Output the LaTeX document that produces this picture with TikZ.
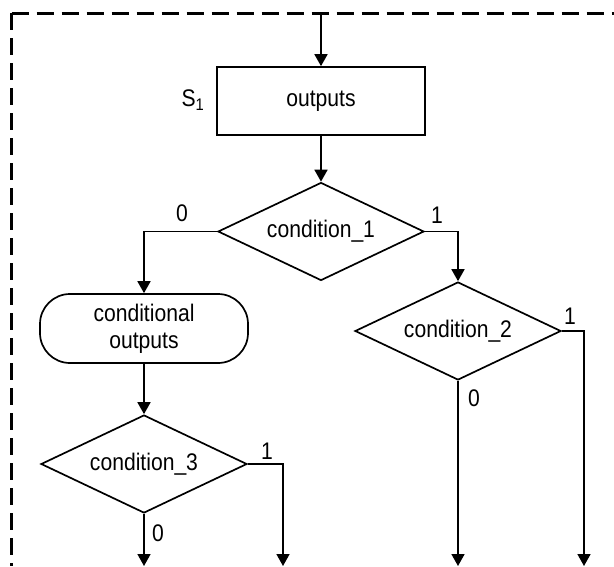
\documentclass[tikz,border=0pt]{standalone}
\usepackage{fontspec}
\setmainfont{Liberation Sans}[FakeStretch=0.88]
\usetikzlibrary{shapes.geometric,arrows.meta}
\begin{document}
\begin{tikzpicture}[x=1pt,y=1pt,
  every node/.style={font=\fontsize{24}{27}\selectfont},
  arr/.style={line width=1.7pt,-{Triangle[width=13pt,length=12pt]}},
  boxnode/.style={draw,line width=1.7pt,rectangle,minimum width=208pt,minimum height=68pt,inner sep=0pt},
  roundnode/.style={draw,line width=1.7pt,rectangle,rounded corners=30pt,minimum width=208pt,minimum height=69pt,inner sep=0pt,align=center},
  decision/.style={draw,line width=1.7pt,diamond,aspect=2.1,minimum width=206pt,minimum height=98pt,inner sep=0pt},
  lbl/.style={inner sep=0pt},
  frame/.style={line width=2.6pt,dash pattern=on 17pt off 8pt}
]
\useasboundingbox (0,0) rectangle (614,-566);
\clip (0,0) rectangle (614,-566);

% dashed frame
\coordinate (corner) at (11.7,-13.3);
\coordinate (topright) at (614,-13.3);
\coordinate (botleft) at (11.7,-566);
\draw[frame] (corner) -- (topright);
\draw[frame] (corner) -- (botleft);

% nodes
\node[boxnode] (out) at (321,-101) {outputs};
\node[lbl] (s1) at (193,-100) {S\textsubscript{1}};
\node[decision] (d1) at (321,-231.5) {condition\_1};
\node[roundnode] (co) at (144,-328.5) {conditional\\outputs};
\node[decision] (d2) at (458,-331) {condition\_2};
\node[decision] (d3) at (144,-464) {condition\_3};

% labels
\node[lbl] (l0a) at (182,-213) {0};
\node[lbl] (l1a) at (437,-215) {1};
\node[lbl] (l1b) at (570,-316) {1};
\node[lbl] (l0b) at (474,-398) {0};
\node[lbl] (l1c) at (267,-451) {1};
\node[lbl] (l0c) at (158,-533) {0};

% free ends
\coordinate (in) at (321,-13.3);
\coordinate (e1) at (144,-566);
\coordinate (e2) at (283,-566);
\coordinate (e3) at (458,-566);
\coordinate (e4) at (584,-566);

% connectors
\draw[arr] (in) -- (out.north);
\draw[arr] (out.south) -- (d1.north);
\draw[arr] (d1.west) -| (co.north);
\draw[arr] (d1.east) -| (d2.north);
\draw[arr] (co.south) -- (d3.north);
\draw[arr] (d2.south) -- (e3);
\draw[arr] (d2.east) -| (e4);
\draw[arr] (d3.south) -- (e1);
\draw[arr] (d3.east) -| (e2);
\end{tikzpicture}
\end{document}
